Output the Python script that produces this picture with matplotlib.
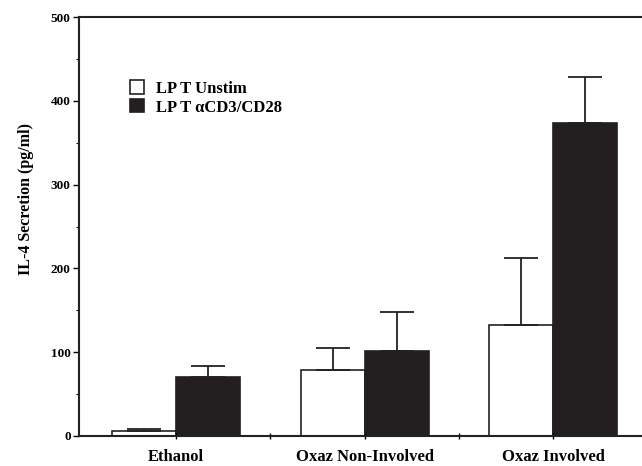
import matplotlib
matplotlib.use("Agg")
import matplotlib.pyplot as plt
import numpy as np

categories = ["Ethanol", "Oxaz Non-Involved", "Oxaz Involved"]
unstim = [6, 79, 133]
unstim_err = [2, 26, 79]
stim = [71, 101, 373]
stim_err = [12, 47, 55]
series_labels = ["LP T Unstim", "LP T \u03b1CD3/CD28"]
yticks = [0, 100, 200, 300, 400, 500]

plt.rcParams['font.family'] = ['Liberation Serif', 'DejaVu Serif']
plt.rcParams['font.weight'] = 'bold'

fig = plt.figure(figsize=(6.42, 4.66), dpi=100)
ax = fig.add_axes([0.123, 0.0644, 0.877, 0.899])

x = np.arange(len(categories))
w = 0.34
ax.bar(x - w/2, unstim, w, color='white', edgecolor='#222222', linewidth=1.2, label=series_labels[0])
ax.bar(x + w/2, stim, w, color='#231f20', edgecolor='#231f20', linewidth=1.2, label=series_labels[1])
ax.errorbar(x - w/2, unstim, yerr=[np.zeros(3), unstim_err], fmt='none', ecolor='#222222',
            elinewidth=1.3, capsize=12, capthick=1.3)
ax.errorbar(x + w/2, stim, yerr=[np.zeros(3), stim_err], fmt='none', ecolor='#222222',
            elinewidth=1.3, capsize=12, capthick=1.3)

ax.set_xlim(-0.515, 2.47)
ax.set_ylim(0, 500)
ax.set_yticks(yticks)
ax.set_yticklabels([str(v) for v in yticks], fontsize=9.5, fontweight='bold')
ax.set_yticks(np.arange(50, 500, 100), minor=True)
ax.set_xticks(x)
ax.set_xticklabels(categories, fontsize=12, fontweight='bold')
ax.set_xticks([0.5, 1.5], minor=True)
ax.tick_params(axis='x', which='both', direction='inout', length=5, width=1.0, pad=7)
ax.tick_params(axis='y', which='major', direction='out', length=4, width=1.0, pad=2)
ax.tick_params(axis='y', which='minor', direction='out', length=2, width=0.8)

ax.spines['right'].set_visible(False)
for s in ['left', 'top', 'bottom']:
    ax.spines[s].set_linewidth(1.5)
    ax.spines[s].set_color('#222222')

ax.set_ylabel("IL-4 Secretion (pg/ml)", fontsize=11.5, fontweight='bold')
ax.yaxis.set_label_coords(-0.079, 0.565)

leg = ax.legend(loc='upper left', bbox_to_anchor=(0.064, 0.885), frameon=False,
                handlelength=0.85, handleheight=0.85, handletextpad=0.7, labelspacing=0.15,
                prop={'weight': 'bold', 'size': 12})

fig.savefig("out.png", dpi=100)
